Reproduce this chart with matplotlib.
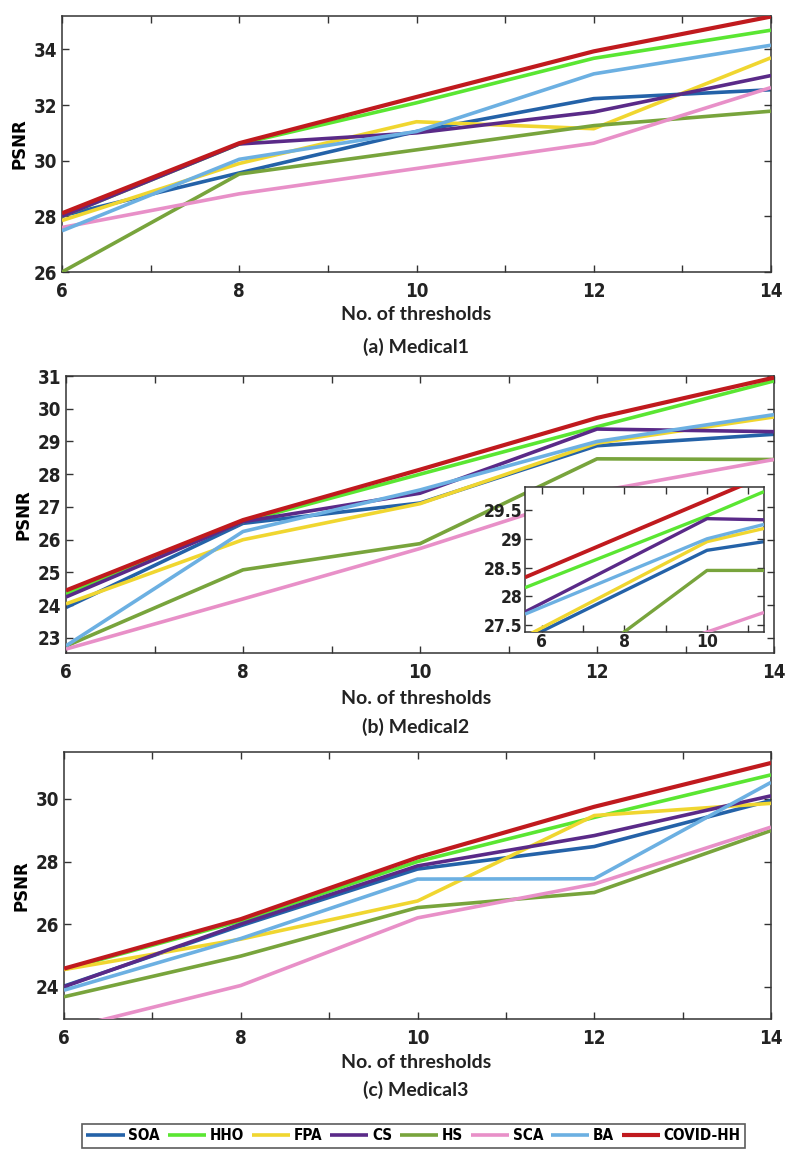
import matplotlib
matplotlib.use("Agg")
import matplotlib.pyplot as plt
from matplotlib.ticker import MultipleLocator

thresholds = [6, 8, 10, 12, 14]
names = ["SOA", "HHO", "FPA", "CS", "HS", "SCA", "BA", "COVID-HH"]
colors = ["#2462a8", "#5ae632", "#f0d630", "#5a2a88", "#78a43c", "#e890c8", "#6cb0e2", "#c01a1e"]

# Medical1
m1_soa = [28.02, 29.56, 31.05, 32.23, 32.55]
m1_hho = [28.0, 30.6, 32.08, 33.68, 34.69]
m1_fpa = [27.85, 29.9, 31.4, 31.15, 33.7]
m1_cs = [28.0, 30.6, 31.0, 31.75, 33.06]
m1_hs = [26.0, 29.52, 30.39, 31.26, 31.78]
m1_sca = [27.6, 28.81, 29.72, 30.63, 32.63]
m1_ba = [27.48, 30.05, 31.05, 33.12, 34.15]
m1_covid = [28.11, 30.63, 32.29, 33.93, 35.18]

# Medical2
m2_soa = [23.93, 26.5, 27.12, 28.87, 29.22]
m2_hho = [24.35, 26.55, 28.0, 29.45, 30.85]
m2_fpa = [24.04, 26.0, 27.1, 28.95, 29.75]
m2_cs = [24.25, 26.55, 27.42, 29.38, 29.3]
m2_hs = [22.75, 25.08, 25.88, 28.47, 28.45]
m2_sca = [22.66, 24.19, 25.73, 27.47, 28.45]
m2_ba = [22.76, 26.25, 27.52, 29.0, 29.82]
m2_covid = [24.45, 26.6, 28.14, 29.72, 30.95]

# Medical2 zoomed inset (own axis labels)
inset_x = [5.59, 10, 11.38]
in_soa = [27.25, 28.8, 28.95]
in_hho = [28.15, 29.4, 29.82]
in_fpa = [27.3, 28.95, 29.18]
in_cs = [27.73, 29.35, 29.33]
in_hs = [26.1, 28.45, 28.45]
in_sca = [26.3, 27.38, 27.72]
in_ba = [27.69, 29.0, 29.25]
in_covid = [28.33, 29.67, 30.09]

# Medical3
m3_soa = [24.02, 25.95, 27.76, 28.48, 29.95]
m3_hho = [24.55, 26.1, 28.0, 29.41, 30.77]
m3_fpa = [24.55, 25.52, 26.74, 29.47, 29.86]
m3_cs = [24.0, 26.0, 27.86, 28.83, 30.1]
m3_hs = [23.68, 24.98, 26.53, 27.01, 28.99]
m3_sca = [22.64, 24.04, 26.2, 27.28, 29.1]
m3_ba = [23.89, 25.54, 27.44, 27.45, 30.53]
m3_covid = [24.58, 26.16, 28.13, 29.75, 31.15]

W, H = 789, 1161
LABEL = ["Lato", "DejaVu Sans"]
draw_order = [5, 4, 6, 2, 0, 3, 1, 7]


def box(left, top, right, bottom):
	return [left / W, 1 - bottom / H, (right - left) / W, (bottom - top) / H]


def draw_lines(ax, x, series, lw=2.6):
	for i in draw_order:
		ax.plot(x, series[i], color=colors[i], lw=lw + (0.4 if i == 7 else 0),
			solid_capstyle="butt", label=names[i], zorder=2 + i)


def style(ax, fs=13.5):
	for s in ax.spines.values():
		s.set_linewidth(1.1)
		s.set_color("#333333")
	ax.tick_params(which="both", direction="in", top=True, right=True,
		length=5, width=1.0, colors="#333333", labelsize=fs, labelcolor="#222222")
	for lab in ax.get_xticklabels() + ax.get_yticklabels():
		lab.set_family("DejaVu Sans")
		lab.set_stretch("condensed")
		lab.set_fontweight("bold")


def panel(rect, series, ylim, yticks, title, ypix):
	ax = fig.add_axes(rect)
	draw_lines(ax, thresholds, series)
	ax.set_xlim(6, 14)
	ax.set_ylim(*ylim)
	ax.set_xticks([6, 8, 10, 12, 14])
	ax.xaxis.set_minor_locator(MultipleLocator(1))
	ax.set_yticks(yticks)
	style(ax)
	ax.tick_params(axis="x", pad=7)
	ax.set_ylabel("PSNR", fontsize=12, fontweight="bold", labelpad=4)
	fig.text(416 / W, 1 - ypix[0] / H, "No. of thresholds", ha="center", va="center",
		fontsize=14, family=LABEL, fontweight="bold", color="#222222")
	fig.text(416 / W, 1 - ypix[1] / H, title, ha="center", va="center",
		fontsize=14, family=LABEL, fontweight="bold", color="#222222")
	return ax


fig = plt.figure(figsize=(W / 100, H / 100), dpi=100)

ax1 = panel(box(62, 16, 771, 272),
	[m1_soa, m1_hho, m1_fpa, m1_cs, m1_hs, m1_sca, m1_ba, m1_covid],
	(26, 35.2), [26, 28, 30, 32, 34], "(a) Medical1", (315, 347))

ax2 = panel(box(66, 376, 774, 653),
	[m2_soa, m2_hho, m2_fpa, m2_cs, m2_hs, m2_sca, m2_ba, m2_covid],
	(22.54, 31), [23, 24, 25, 26, 27, 28, 29, 30, 31], "(b) Medical2", (698, 727))

ax3 = panel(box(64, 752, 771, 1019),
	[m3_soa, m3_hho, m3_fpa, m3_cs, m3_hs, m3_sca, m3_ba, m3_covid],
	(22.97, 31.5), [24, 26, 28, 30], "(c) Medical3", (1063, 1090))

# inset on Medical2
axi = fig.add_axes(box(525, 487, 764, 632))
draw_lines(axi, inset_x, [in_soa, in_hho, in_fpa, in_cs, in_hs, in_sca, in_ba, in_covid], lw=2.4)
axi.set_xlim(5.59, 11.38)
axi.set_ylim(27.38, 29.9)
axi.set_xticks([6, 8, 10])
axi.xaxis.set_minor_locator(MultipleLocator(1))
axi.set_yticks([27.5, 28, 28.5, 29, 29.5])
axi.set_yticklabels(["27.5", "28", "28.5", "29", "29.5"])
style(axi, fs=12.5)
axi.tick_params(axis="x", pad=1)
axi.tick_params(axis="y", pad=2)

handles, labels = ax1.get_legend_handles_labels()
order = [labels.index(n) for n in names]
leg = fig.legend([handles[i] for i in order], names, loc="center",
	bbox_to_anchor=(413.5 / W, 1 - 1136 / H), ncol=8, frameon=True, fancybox=False,
	handlelength=2.5, handletextpad=0.25, columnspacing=0.5, borderpad=0.3,
	prop={"family": "DejaVu Sans", "stretch": "condensed", "weight": "bold", "size": 11})
leg.get_frame().set_edgecolor("#333333")
leg.get_frame().set_linewidth(1.2)

fig.savefig("out.png", dpi=100)
